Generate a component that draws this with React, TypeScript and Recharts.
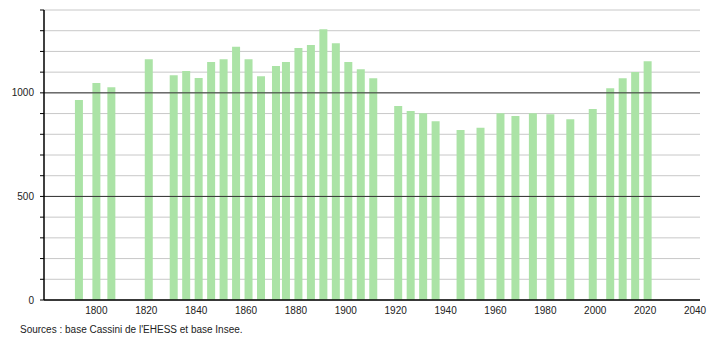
import {
  BarChart,
  Bar,
  XAxis,
  YAxis,
  CartesianGrid,
  ReferenceLine,
} from 'recharts'

const years = [
  1793, 1800, 1806, 1821, 1831, 1836, 1841, 1846, 1851, 1856, 1861, 1866,
  1872, 1876, 1881, 1886, 1891, 1896, 1901, 1906, 1911, 1921, 1926, 1931,
  1936, 1946, 1954, 1962, 1968, 1975, 1982, 1990, 1999, 2006, 2011, 2016,
  2021,
]
const population = [
  965, 1048, 1027, 1162, 1085, 1106, 1072, 1149, 1162, 1222, 1162, 1080,
  1130, 1149, 1217, 1231, 1307, 1239, 1149, 1114, 1070, 937, 913, 901,
  863, 821, 832, 901, 888, 901, 897, 872, 922, 1022, 1070, 1101,
  1152,
]
const xTicks = [1800, 1820, 1840, 1860, 1880, 1900, 1920, 1940, 1960, 1980, 2000, 2020, 2040]
const yTicks = [0, 100, 200, 300, 400, 500, 600, 700, 800, 900, 1000, 1100, 1200, 1300, 1400]
const majorLines = [500, 1000]
const source = "Sources : base Cassini de l'EHESS et base Insee."

const data = years.map((year, i) => ({ year, pop: population[i] }))

const font = '"Liberation Sans", Arial, sans-serif'

export default function App() {
  return (
    <div
      style={{
        position: 'absolute',
        left: 0,
        top: 0,
        width: 710,
        height: 340,
        background: '#fff',
        fontFamily: font,
      }}
    >
      <BarChart
        width={710}
        height={340}
        data={data}
        margin={{ top: 10, right: 10, left: 0, bottom: 20 }}
      >
        <CartesianGrid
          horizontal
          vertical={false}
          stroke="#c8c8c8"
          strokeWidth={1}
        />
        {/* darker lines at 500 / 1000 */}
        {majorLines.map((v) => (
          <ReferenceLine key={v} y={v} stroke="#333" strokeWidth={1} />
        ))}
        <XAxis
          dataKey="year"
          type="number"
          domain={[1779, 2042]}
          ticks={xTicks}
          tickLine={false}
          axisLine={{ stroke: '#000', strokeWidth: 1.5 }}
          tick={{ fontSize: 10, fill: '#222', fontFamily: font }}
          tickMargin={1}
          height={20}
          interval={0}
        />
        <YAxis
          type="number"
          domain={[0, 1400]}
          ticks={yTicks}
          width={44}
          interval={0}
          tickSize={4}
          tickMargin={6}
          tickLine={{ stroke: '#000' }}
          axisLine={{ stroke: '#000', strokeWidth: 1.5 }}
          tick={{ fontSize: 10, fill: '#222', fontFamily: font }}
          tickFormatter={(v: number) => (v % 500 === 0 && v <= 1000 ? String(v) : '')}
        />
        <Bar dataKey="pop" fill="#abe3a6" barSize={8} isAnimationActive={false} />
      </BarChart>
      <div
        style={{
          position: 'absolute',
          left: 20,
          top: 324,
          fontSize: 10,
          color: '#222',
          fontFamily: font,
        }}
      >
        {source}
      </div>
    </div>
  )
}
